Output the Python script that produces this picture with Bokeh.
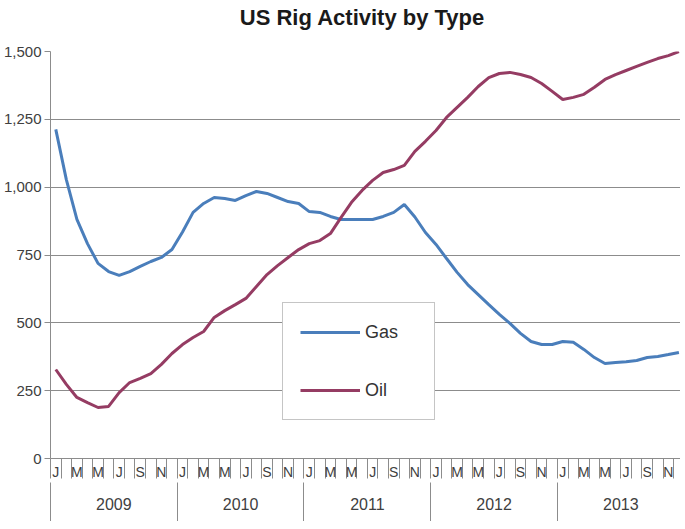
from bokeh.plotting import figure
from bokeh.models import Range1d, LinearAxis, FixedTicker, Legend, LegendItem
from bokeh.embed import file_html
from bokeh.resources import INLINE

# ---- data ----
years = ["2009", "2010", "2011", "2012", "2013"]
month_letters = ["J", "F", "M", "A", "M", "J", "J", "A", "S", "O", "N", "D"]
y_ticks = [0, 250, 500, 750, 1000, 1250, 1500]
y_tick_labels = ["0", "250", "500", "750", "1,000", "1,250", "1,500"]

gas = [1213, 1028, 881, 792, 719, 689, 675, 689, 708, 726, 741, 770,
       835, 907, 940, 962, 958, 951, 969, 984, 977, 962, 947, 940,
       910, 907, 892, 881, 881, 881, 881, 892, 907, 936, 890, 833,
       789, 737, 686, 641, 604, 567, 531, 498, 461, 431, 420, 420,
       431, 428, 402, 372, 350, 354, 357, 361, 372, 376, 383, 391]
oil = [328, 273, 225, 206, 188, 192, 243, 280, 295, 313, 347, 387,
       420, 446, 468, 520, 545, 567, 590, 634, 678, 711, 741, 770,
       792, 803, 829, 888, 944, 988, 1025, 1054, 1065, 1080, 1132, 1169,
       1209, 1257, 1294, 1331, 1371, 1404, 1419, 1423, 1415, 1404, 1382, 1353,
       1323, 1331, 1342, 1368, 1397, 1415, 1430, 1445, 1460, 1474, 1485, 1500]

n = len(gas)
x = list(range(n))

FONT = "Liberation Sans"
GRID = "#8c8c8c"
TXT = "#404040"

LEFT = 47
FRAME_H = 407
BOTTOM = 63
p = figure(frame_width=677 - LEFT, frame_height=FRAME_H,
           output_backend="svg", toolbar_location=None,
           x_range=Range1d(-0.5, 59.15), y_range=Range1d(0, 1500),
           x_axis_type=None, min_border_left=LEFT, min_border_right=0,
           min_border_top=0, min_border_bottom=BOTTOM,
           background_fill_color="white", border_fill_color="white")
p.outline_line_color = None

p.title.text = "US Rig Activity  by Type"
p.title.align = "center"
p.title.text_font = FONT
p.title.text_font_size = "22px"
p.title.text_font_style = "bold"
p.title.text_color = "#1a1a1a"
p.title.standoff = 4

# invisible spacer between the title and the plot area
spacer = LinearAxis(ticker=FixedTicker(ticks=[], minor_ticks=[]),
                    axis_line_color=None, major_tick_line_color=None,
                    minor_tick_line_color=None, major_tick_out=0, major_tick_in=0,
                    minor_tick_out=0, minor_tick_in=0, major_label_standoff=0,
                    axis_label="·", axis_label_text_alpha=0,
                    axis_label_text_font_size="13px", axis_label_standoff=2)
p.add_layout(spacer, "above")

# grid
p.xgrid.grid_line_color = None
p.ygrid.ticker = FixedTicker(ticks=y_ticks)
p.ygrid.grid_line_color = GRID
p.ygrid.grid_line_width = 1

# y axis
ya = p.yaxis[0]
ya.ticker = FixedTicker(ticks=y_ticks, minor_ticks=[])
ya.major_label_overrides = {t: l for t, l in zip(y_ticks, y_tick_labels)}
ya.axis_line_color = GRID
ya.major_tick_line_color = GRID
ya.major_tick_out = 6
ya.major_tick_in = 0
ya.minor_tick_line_color = None
ya.major_label_text_font = FONT
ya.major_label_text_font_size = "15px"
ya.major_label_text_color = TXT
ya.major_label_standoff = 3

# month axis (labels sit between the month tick marks)
month_ticks = list(range(0, n, 2))
month_axis = LinearAxis(
    ticker=FixedTicker(ticks=month_ticks, minor_ticks=[i - 0.5 for i in range(n + 1)]),
    major_label_overrides={i: month_letters[i % 12] for i in month_ticks},
    axis_line_color=GRID, major_tick_line_color=None, major_tick_out=0, major_tick_in=0,
    minor_tick_line_color=GRID, minor_tick_in=0, minor_tick_out=20,
    major_label_standoff=-15, major_label_text_font=FONT,
    major_label_text_font_size="14px", major_label_text_color=TXT)
p.add_layout(month_axis, "below")

# year axis with group separators
year_ticks = [12 * k + 5.5 for k in range(len(years))]
year_axis = LinearAxis(
    ticker=FixedTicker(ticks=year_ticks, minor_ticks=[12 * k - 0.5 for k in range(len(years) + 1)]),
    major_label_overrides={t: y for t, y in zip(year_ticks, years)},
    axis_line_color=None, major_tick_line_color=None, major_tick_out=0, major_tick_in=0,
    minor_tick_line_color=GRID, minor_tick_in=0, minor_tick_out=41,
    major_label_standoff=-26, major_label_text_font=FONT,
    major_label_text_font_size="16px", major_label_text_color=TXT)
p.add_layout(year_axis, "below")

r_gas = p.line(x, gas, line_color="#4A7EBB", line_width=3)
r_oil = p.line(x, oil, line_color="#953C63", line_width=3)

legend = Legend(items=[LegendItem(label="Gas", renderers=[r_gas]),
                       LegendItem(label="Oil", renderers=[r_oil])],
                location=(232, 38), orientation="vertical",
                padding=17, spacing=34, glyph_width=60, glyph_height=24,
                label_width=52, label_height=24, label_standoff=5,
                border_line_color="#8c8c8c", border_line_width=1,
                background_fill_color="white", background_fill_alpha=1,
                label_text_font=FONT, label_text_font_size="18px",
                label_text_color="#333333", margin=0)
p.add_layout(legend, "center")

open("out.html", "w").write(file_html(p, INLINE))
